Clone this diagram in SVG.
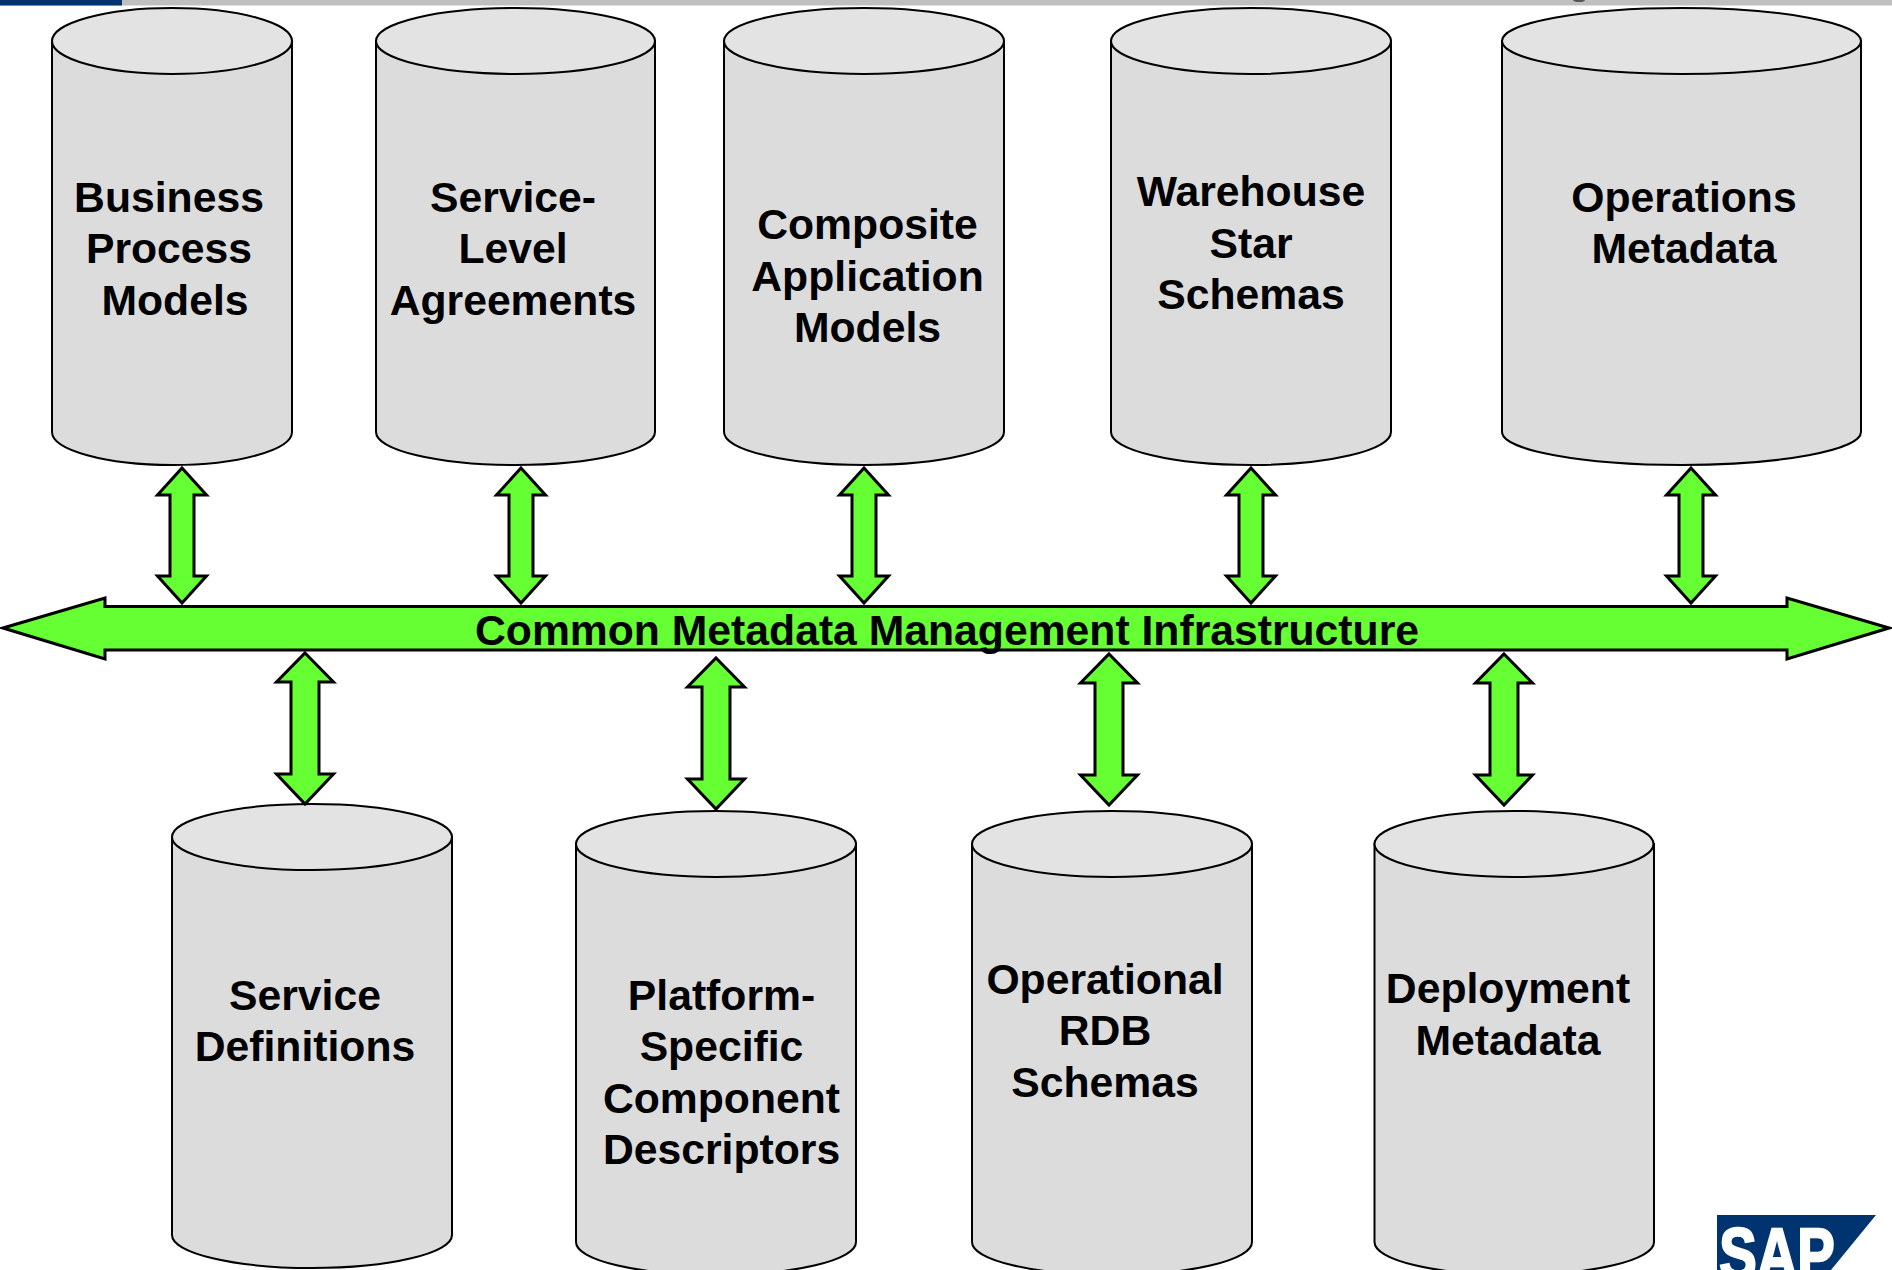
<svg xmlns="http://www.w3.org/2000/svg" width="1892" height="1270" viewBox="0 0 1892 1270">
<style>
.body{fill:#dcdcdc;stroke:#000;stroke-width:2}
.top{fill:#e3e3e3;stroke:#000;stroke-width:2}
.arr{fill:#66ff33;stroke:#000;stroke-width:3;stroke-linejoin:miter}
text{font-family:"Liberation Sans",Arial,sans-serif;font-weight:700;font-size:42.700px;fill:#000;text-anchor:middle}
</style>
<defs>
<path id="v" class="arr" d="M0 1L24.500 28H12V109H24.500L0 136L-24.500 109H-12V28H-24.500Z"/>
<path id="w" class="arr" d="M0 1L28.500 30H14V122H28.500L0 152L-28.500 122H-14V30H-28.500Z"/>
</defs>
<rect width="1892" height="5.500" fill="#bfbfbf"/>
<rect width="122" height="5.500" fill="#003470"/>
<ellipse cx="1579" cy="0" rx="6" ry="2" fill="#555"/>
<g id="cyl-business"><path class="body" d="M52 41V432C52 450 106 465 172 465S292 450 292 432V41Z"/><ellipse class="top" cx="172" cy="41" rx="120" ry="33"/><text x="169" y="212">Business</text><text x="169" y="263">Process</text><text x="175" y="315">Models</text></g>
<g id="cyl-sla"><path class="body" d="M376 41V432C376 450 438 465 515.500 465S655 450 655 432V41Z"/><ellipse class="top" cx="515.500" cy="41" rx="139.500" ry="33"/><text x="513" y="212">Service-</text><text x="513" y="263">Level</text><text x="513" y="315">Agreements</text></g>
<g id="cyl-composite"><path class="body" d="M724 41V432C724 450 786 465 864 465S1004 450 1004 432V41Z"/><ellipse class="top" cx="864" cy="41" rx="140" ry="33"/><text x="867.500" y="239">Composite</text><text x="867.500" y="291">Application</text><text x="867.500" y="342">Models</text></g>
<g id="cyl-warehouse"><path class="body" d="M1111 41V432C1111 450 1173 465 1251 465S1391 450 1391 432V41Z"/><ellipse class="top" cx="1251" cy="41" rx="140" ry="33"/><text x="1251" y="206">Warehouse</text><text x="1251" y="258">Star</text><text x="1251" y="309">Schemas</text></g>
<g id="cyl-operations"><path class="body" d="M1502 41V432C1502 450 1582 465 1681.500 465S1861 450 1861 432V41Z"/><ellipse class="top" cx="1681.500" cy="41" rx="179.500" ry="33"/><text x="1684" y="212">Operations</text><text x="1684" y="263">Metadata</text></g>
<g id="cyl-service"><path class="body" d="M172 837V1235C172 1253 234 1268 312 1268S452 1253 452 1235V837Z"/><ellipse class="top" cx="312" cy="837" rx="140" ry="33"/><text x="305" y="1010">Service</text><text x="305" y="1061">Definitions</text></g>
<g id="cyl-platform"><path class="body" d="M576 844V1242C576 1260 638 1275 716 1275S856 1260 856 1242V844Z"/><ellipse class="top" cx="716" cy="844" rx="140" ry="33"/><text x="721.500" y="1010">Platform-</text><text x="721.500" y="1061">Specific</text><text x="721.500" y="1113">Component</text><text x="721.500" y="1164">Descriptors</text></g>
<g id="cyl-rdb"><path class="body" d="M972 844V1242C972 1260 1034 1275 1112 1275S1252 1260 1252 1242V844Z"/><ellipse class="top" cx="1112" cy="844" rx="140" ry="33"/><text x="1105" y="994">Operational</text><text x="1105" y="1045">RDB</text><text x="1105" y="1097">Schemas</text></g>
<g id="cyl-deployment"><path class="body" d="M1374.500 844V1242C1374.500 1260 1436 1275 1514 1275S1654 1260 1654 1242V844Z"/><ellipse class="top" cx="1514" cy="844" rx="139.500" ry="33"/><text x="1508" y="1003">Deployment</text><text x="1508" y="1055">Metadata</text></g>
<g id="connectors">
<use href="#v" x="182" y="467"/><use href="#v" x="521" y="467"/><use href="#v" x="864" y="467"/><use href="#v" x="1251" y="467"/><use href="#v" x="1691" y="467"/>
<use href="#w" x="305" y="652"/><use href="#w" x="716" y="657"/><use href="#w" x="1109" y="653"/><use href="#w" x="1504" y="653"/>
</g>
<g id="bus"><path class="arr" d="M3 628L105 598V606.500H1787V598L1889 628L1787 659V650H105V659Z"/><text x="947" y="645">Common Metadata Management Infrastructure</text></g>
<g id="logo"><path d="M1717 1215H1876L1831 1270H1717Z" fill="#003470"/><text transform="translate(1777 1279) scale(.78 1)" x="0" y="0" style="font-size:72px;fill:#fff;stroke:#fff;stroke-width:2.500px">SAP</text></g>
</svg>
